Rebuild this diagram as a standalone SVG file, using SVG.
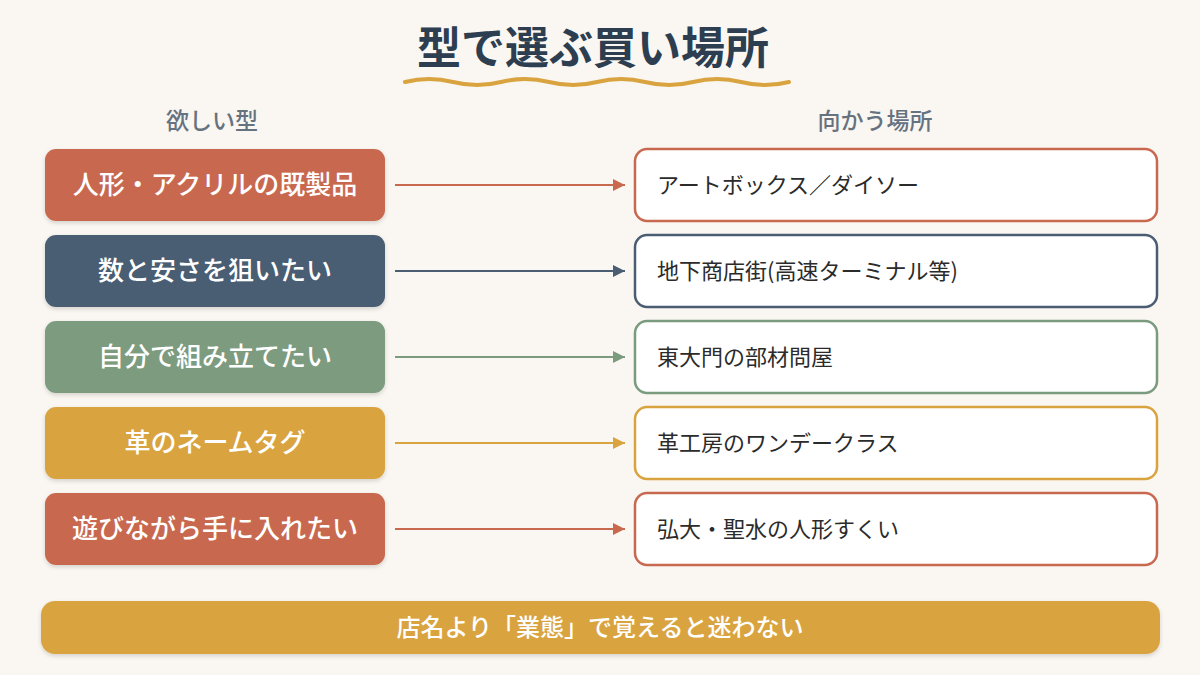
<svg xmlns="http://www.w3.org/2000/svg" width="1200" height="675" viewBox="0 0 1200 675">
<style>
text{font-family:"Noto Sans CJK JP","Noto Sans",sans-serif}
.title{font-size:44px;font-weight:700;fill:#2c3e50;text-anchor:middle}
.head{font-size:23px;font-weight:500;fill:#66727f;text-anchor:middle}
.lt{font-size:26px;font-weight:500;fill:#ffffff;text-anchor:middle}
.rt{font-size:22px;fill:#2b2b2b}
.rbox{fill:#ffffff;stroke-width:2.5}
.conn{stroke-width:2;fill:none}
.bt{font-size:24px;font-weight:500;fill:#ffffff;text-anchor:middle}
</style>
<defs>
<filter id="sh" x="-10%" y="-20%" width="120%" height="150%">
<feDropShadow dx="0" dy="2" stdDeviation="2" flood-color="#000" flood-opacity="0.15"/>
</filter>
<marker id="aR" viewBox="0 0 10 10" refX="10" refY="5" markerWidth="6" markerHeight="6" orient="auto" markerUnits="strokeWidth"><path d="M0,0 L10,5 L0,10 z" fill="#c8694f"/></marker>
<marker id="aB" viewBox="0 0 10 10" refX="10" refY="5" markerWidth="6" markerHeight="6" orient="auto" markerUnits="strokeWidth"><path d="M0,0 L10,5 L0,10 z" fill="#4a5d73"/></marker>
<marker id="aG" viewBox="0 0 10 10" refX="10" refY="5" markerWidth="6" markerHeight="6" orient="auto" markerUnits="strokeWidth"><path d="M0,0 L10,5 L0,10 z" fill="#7b9b7f"/></marker>
<marker id="aY" viewBox="0 0 10 10" refX="10" refY="5" markerWidth="6" markerHeight="6" orient="auto" markerUnits="strokeWidth"><path d="M0,0 L10,5 L0,10 z" fill="#d9a440"/></marker>
</defs>
<rect width="1200" height="675" fill="#faf6f1"/>
<g id="title">
<text class="title" x="593" y="64">型で選ぶ買い場所</text>
<path d="M405,82 q24,-6 48,0 t48,0 t48,0 t48,0 t48,0 t48,0 t48,0 t48,0" fill="none" stroke="#d9a440" stroke-width="4" stroke-linecap="round"/>
</g>
<g id="headers">
<text class="head" x="212" y="129">欲しい型</text>
<text class="head" x="875" y="129">向かう場所</text>
</g>
<g id="connectors">
<line class="conn" x1="395" y1="185" x2="625" y2="185" stroke="#c8694f" marker-end="url(#aR)"/>
<line class="conn" x1="395" y1="271" x2="625" y2="271" stroke="#4a5d73" marker-end="url(#aB)"/>
<line class="conn" x1="395" y1="357" x2="625" y2="357" stroke="#7b9b7f" marker-end="url(#aG)"/>
<line class="conn" x1="395" y1="443" x2="625" y2="443" stroke="#d9a440" marker-end="url(#aY)"/>
<line class="conn" x1="395" y1="529" x2="625" y2="529" stroke="#c8694f" marker-end="url(#aR)"/>
</g>
<g id="need1"><rect x="45" y="149" width="340" height="72" rx="11" fill="#c8694f" filter="url(#sh)"/><text class="lt" x="215" y="194">人形・アクリルの既製品</text></g>
<g id="need2"><rect x="45" y="235" width="340" height="72" rx="11" fill="#4a5d73" filter="url(#sh)"/><text class="lt" x="215" y="280">数と安さを狙いたい</text></g>
<g id="need3"><rect x="45" y="321" width="340" height="72" rx="11" fill="#7b9b7f" filter="url(#sh)"/><text class="lt" x="215" y="366">自分で組み立てたい</text></g>
<g id="need4"><rect x="45" y="407" width="340" height="72" rx="11" fill="#d9a440" filter="url(#sh)"/><text class="lt" x="215" y="452">革のネームタグ</text></g>
<g id="need5"><rect x="45" y="493" width="340" height="72" rx="11" fill="#c8694f" filter="url(#sh)"/><text class="lt" x="215" y="538">遊びながら手に入れたい</text></g>
<g id="place1"><rect class="rbox" x="635" y="149" width="522" height="72" rx="12" stroke="#c8694f"/><text class="rt" x="657" y="193">アートボックス／ダイソー</text></g>
<g id="place2"><rect class="rbox" x="635" y="235" width="522" height="72" rx="12" stroke="#4a5d73"/><text class="rt" x="657" y="279">地下商店街(高速ターミナル等)</text></g>
<g id="place3"><rect class="rbox" x="635" y="321" width="522" height="72" rx="12" stroke="#7b9b7f"/><text class="rt" x="657" y="365">東大門の部材問屋</text></g>
<g id="place4"><rect class="rbox" x="635" y="407" width="522" height="72" rx="12" stroke="#d9a440"/><text class="rt" x="657" y="451">革工房のワンデークラス</text></g>
<g id="place5"><rect class="rbox" x="635" y="493" width="522" height="72" rx="12" stroke="#c8694f"/><text class="rt" x="657" y="537">弘大・聖水の人形すくい</text></g>
<g id="footer"><rect x="41" y="601" width="1119" height="53" rx="14" fill="#d9a440" filter="url(#sh)"/><text class="bt" x="600" y="636">店名より「業態」で覚えると迷わない</text></g>
</svg>
